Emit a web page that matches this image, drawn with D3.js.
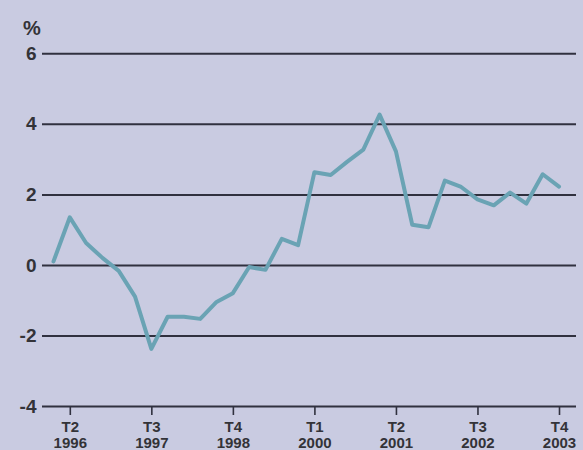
<!DOCTYPE html>
<html>
<head>
<meta charset="utf-8">
<script src="https://cdn.jsdelivr.net/npm/d3@7"></script>
<style>
  html, body { margin: 0; padding: 0; background: #c9cbe1; }
  svg { display: block; }
</style>
</head>
<body>
<script>
// Quarterly series, T1 1996 .. T4 2003 (%)
const quarters = [
  "T1 1996","T2 1996","T3 1996","T4 1996",
  "T1 1997","T2 1997","T3 1997","T4 1997",
  "T1 1998","T2 1998","T3 1998","T4 1998",
  "T1 1999","T2 1999","T3 1999","T4 1999",
  "T1 2000","T2 2000","T3 2000","T4 2000",
  "T1 2001","T2 2001","T3 2001","T4 2001",
  "T1 2002","T2 2002","T3 2002","T4 2002",
  "T1 2003","T2 2003","T3 2003","T4 2003"
];
const values = [
  0.10, 1.35, 0.62, 0.20,
  -0.17, -0.90, -2.38, -1.47,
  -1.47, -1.53, -1.05, -0.80,
  -0.06, -0.14, 0.74, 0.56,
  2.63, 2.55, 2.92, 3.27,
  4.26, 3.22, 1.14, 1.07,
  2.39, 2.21, 1.86, 1.69,
  2.05, 1.74, 2.57, 2.22
];
const yTicks = [6, 4, 2, 0, -2, -4];
const xTickQuarters = ["T2 1996","T3 1997","T4 1998","T1 2000","T2 2001","T3 2002","T4 2003"];
const yUnit = "%";

const W = 583, H = 450;
const svg = d3.select("body").append("svg").attr("width", W).attr("height", H);
svg.append("rect").attr("width", W).attr("height", H).attr("fill", "#c9cbe1");

const x = d3.scaleLinear().domain([0, quarters.length - 1]).range([53.5, 559]);
const y = d3.scaleLinear().domain([-4, 6]).range([406, 53.3]);

const gridX0 = 42, gridX1 = 576;
const font = "'Liberation Sans', Arial, Helvetica, sans-serif";

// Y axis with full-width gridlines
const yAxis = d3.axisLeft(y).tickValues(yTicks).tickSize(-(gridX1 - gridX0)).tickPadding(5.5)
  .tickFormat(d => d3.format("d")(d).replace("−", "-"));
const gy = svg.append("g").attr("transform", `translate(${gridX0},0)`).call(yAxis);
gy.select(".domain").remove();
gy.selectAll(".tick line").attr("stroke", "#30313f").attr("stroke-width", 2);
gy.selectAll(".tick text").attr("fill", "#333338").attr("font-family", font)
  .attr("font-size", 19).attr("font-weight", "bold");

svg.append("text").attr("x", 23).attr("y", 35).text(yUnit)
  .attr("fill", "#333338").attr("font-family", font).attr("font-size", 20).attr("font-weight", "bold");

// X axis: tick marks under the -4 line and two-line labels
const xTickIdx = xTickQuarters.map(q => quarters.indexOf(q));
const xAxis = d3.axisBottom(x).tickValues(xTickIdx).tickSize(9).tickFormat("");
const gx = svg.append("g").attr("transform", `translate(0,${y(-4)})`).call(xAxis);
gx.select(".domain").remove();
gx.selectAll(".tick line").attr("stroke", "#30313f").attr("stroke-width", 1.6);
gx.selectAll(".tick").each(function(d) {
  const parts = quarters[d].split(" ");
  const g = d3.select(this);
  g.append("text").attr("y", 26).attr("text-anchor", "middle").text(parts[0])
    .attr("fill", "#333338").attr("font-family", font).attr("font-size", 15).attr("font-weight", "bold");
  g.append("text").attr("y", 42).attr("text-anchor", "middle").text(parts[1])
    .attr("fill", "#333338").attr("font-family", font).attr("font-size", 15).attr("font-weight", "bold");
});

// Series line
const line = d3.line().x((d, i) => x(i)).y(d => y(d));
svg.append("path").datum(values).attr("d", line)
  .attr("fill", "none").attr("stroke", "#6aa3b4").attr("stroke-width", 4)
  .attr("stroke-linejoin", "round").attr("stroke-linecap", "round");
</script>
</body>
</html>
